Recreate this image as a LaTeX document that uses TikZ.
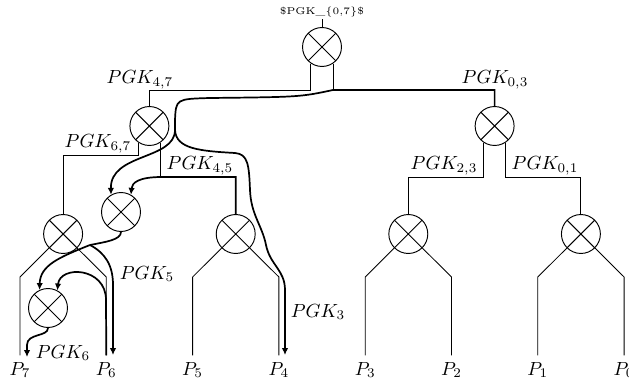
\documentclass[tikz,border=0pt]{standalone}
\usepackage{amsmath}
\usepackage{tikz}
\usetikzlibrary{arrows.meta}

\begin{document}
\begin{tikzpicture}[
  x=0.5262pt, y=0.5262pt,
  gate/.style={draw, circle, minimum size=20.5pt, inner sep=0pt, line width=0.5pt,
               path picture={\draw[line width=0.5pt]
                 (path picture bounding box.north west) -- (path picture bounding box.south east)
                 (path picture bounding box.north east) -- (path picture bounding box.south west);}},
  wire/.style={line width=0.45pt},
  flow/.style={line width=0.9pt},
  flowarrow/.style={flow, -{Latex[length=3.6pt,width=3.4pt]}},
  sig/.style={inner sep=1pt},
  toplabel/.style={inner sep=1pt, font=\fontsize{5.2}{6}\selectfont}
]
  \useasboundingbox (0,0) rectangle (629,385);

  \node[gate] (n07) at (322,338) {};
  \node[toplabel] (ttl) at (322,373) {\textdollar PGK\_\{0,7\}\textdollar};
  \node[gate] (n47) at (149.4,259) {};
  \node[gate] (n03) at (494.6,259) {};
  \node[gate] (n67) at (63.1,151) {};
  \node[gate] (n45) at (235.7,151) {};
  \node[gate] (n23) at (408.3,151) {};
  \node[gate] (n01) at (580.9,151) {};
  \node[gate] (g45) at (121,173) {};
  \node[gate] (g6) at (48,77) {};

  \draw[wire] (ttl) -- (n07);
  \draw[wire] (n07.-124) -- (n07.-124 |- 0,295) -| (n47.north);
  \draw[wire] (n07.-56) -- (n07.-56 |- 0,295) -| (n03.north);
  \draw[wire] (n47.-124) -- (n47.-124 |- 0,230) -| (n67.north);
  \draw[wire] (n47.-56) -- (n47.-56 |- 0,208) -| (n45.north);
  \draw[wire] (n03.-124) -- (n03.-124 |- 0,208) -| (n23.north);
  \draw[wire] (n03.-56) -- (n03.-56 |- 0,208) -| (n01.north);

  \foreach \nd/\a/\b/\xa/\xb in {n67/7/6/20/106.3, n45/5/4/192.6/278.9,
                                 n23/3/2/365.2/451.5, n01/1/0/537.8/624.1} {
    \node (p\a) at (\xa,15) {$P_{\a}$};
    \node (p\b) at (\xb,15) {$P_{\b}$};
    \draw[wire] (\nd.225) -- (p\a.north |- 0,108) -- (p\a.north);
    \draw[wire] (\nd.315) -- (p\b.north |- 0,108) -- (p\b.north);
  }

  \node[sig] at (140,305) {$PGK_{4,7}$};
  \node[sig] at (495,305) {$PGK_{0,3}$};
  \node[sig] at (98,241) {$PGK_{6,7}$};
  \node[sig] at (200,219) {$PGK_{4,5}$};
  \node[sig] at (444,219) {$PGK_{2,3}$};
  \node[sig] at (545,219) {$PGK_{0,1}$};
  \node[sig] at (147,111) {$PGK_5$};
  \node[sig] at (318,73) {$PGK_3$};
  \node[sig] at (63,32) {$PGK_6$};

  \coordinate (s3) at (175,255);
  \coordinate (s5) at (90,140);
  \coordinate (e3) at (285,30);
  \coordinate (e5) at (113,30);
  \coordinate (e6) at (27,28);

  \draw[flow] (n03.north) |- (333,295) .. controls (300,288) .. (210,287)
    .. controls (176,286) .. (175,265) -- (s3);
  \draw[flowarrow] (s3) .. controls (175,225) and (110,232) .. (g45.120);
  \draw[flowarrow] (s3) .. controls (176,236) and (200,234) .. (235,232)
    .. controls (248,231) and (249,220) .. (250,195)
    .. controls (251,170) and (262,160) .. (266,140)
    .. controls (270,120) and (285,115) .. (285,95) -- (e3);
  \draw[flowarrow] (n45.north) |- (162,208) .. controls (138,208) and (132,202) .. (g45.60);
  \draw[flow] (g45.south) .. controls (121,145) and (105,143) .. (s5);
  \draw[flowarrow] (s5) .. controls (60,128) and (40,120) .. (g6.115);
  \draw[flowarrow] (s5) .. controls (105,132) and (113,120) .. (113,100) -- (e5);
  \draw[flowarrow] (p6.north) -- (106,85) .. controls (106,118) and (60,120) .. (g6.62);
  \draw[flowarrow] (g6.south) .. controls (48,48) and (27,52) .. (27,40) -- (e6);
\end{tikzpicture}
\end{document}
